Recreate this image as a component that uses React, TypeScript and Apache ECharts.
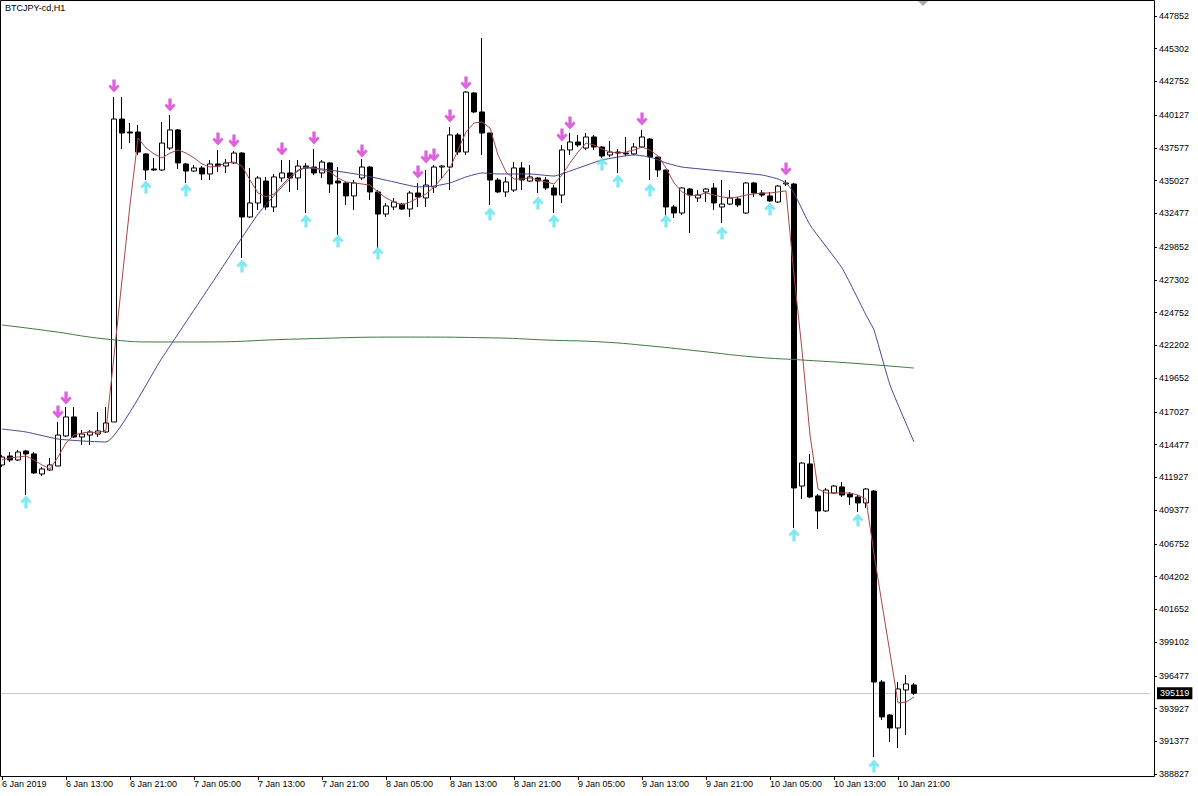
import React, { useEffect, useRef } from "react";
import * as echarts from "echarts";

const title = "BTCJPY-cd,H1";
const xTickLabels = [
  "6 Jan 2019", "6 Jan 13:00", "6 Jan 21:00", "7 Jan 05:00", "7 Jan 13:00", "7 Jan 21:00",
  "8 Jan 05:00", "8 Jan 13:00", "8 Jan 21:00", "9 Jan 05:00", "9 Jan 13:00", "9 Jan 21:00",
  "10 Jan 05:00", "10 Jan 13:00", "10 Jan 21:00",
];
const yTickValues = [
  447852, 445302, 442752, 440127, 437577, 435027, 432477, 429852, 427302, 424752, 422202, 419652,
  417027, 414477, 411927, 409377, 406752, 404202, 401652, 399102, 396477, 393927, 391377, 388827,
];
const lastPrice = 395119;

const opens = [
  412890, 413590, 413280, 413980, 413750, 412190, 412500, 412810, 415150, 416630,
  415070, 415220, 415300, 415460, 416240, 439830, 438820, 438820, 437110, 435940,
  435860, 437570, 438980, 436330, 435780, 436020, 435550, 436330, 436170, 436410,
  437180, 432200, 433290, 435000, 432980, 435240, 435630, 435240, 436170, 436090,
  435630, 436410, 435000, 434850, 433840, 435240, 436090, 434150, 432430, 432980,
  433210, 432820, 434070, 433680, 434540, 436090, 436090, 438590, 437260, 441860,
  440380, 438740, 435080, 434150, 434300, 436020, 435000, 435240, 435080, 434460,
  433910, 437420, 438040, 437570, 438430, 437650, 437030, 437260, 437180, 437110,
  437650, 438270, 436870, 435860, 432980, 432510, 434380, 433680, 434150, 434460,
  432980, 433210, 433600, 432510, 434850, 434070, 433840, 433370, 434770, 434770,
  411250, 412970, 410480, 409310, 410710, 411180, 410630, 410400, 409930, 410860,
  395990, 393420, 392410, 395370, 395760,
];
const closes = [
  413510, 413280, 413900, 413750, 412270, 412580, 412890, 415220, 416630, 415070,
  415300, 415460, 415540, 416160, 439830, 438740, 438740, 437260, 435860, 435860,
  437960, 438980, 436410, 435780, 436020, 435550, 436330, 436170, 436410, 437180,
  432200, 433290, 435240, 432980, 435320, 435630, 435240, 436170, 436020, 435630,
  436480, 434770, 434850, 433840, 434850, 436090, 434150, 432430, 433060, 433370,
  432820, 434070, 433760, 434690, 436090, 436170, 438590, 437260, 441930, 440380,
  438740, 435080, 434150, 434930, 436020, 435080, 435320, 435000, 434460, 433910,
  437420, 438040, 437810, 438430, 437650, 436950, 437260, 437180, 437110, 437650,
  438430, 436870, 435860, 432980, 432510, 434460, 433910, 433910, 434380, 433290,
  433210, 433680, 433140, 434850, 434070, 433910, 433450, 434610, 434850, 411100,
  413040, 410400, 409310, 410940, 411250, 410550, 410400, 409930, 411020, 395990,
  393270, 392410, 395450, 395840, 395119,
];
const lows = [
  412730, 413120, 413200, 410550, 412190, 412030, 412420, 412810, 415070, 414990,
  414450, 414450, 415070, 415380, 416240, 437500, 437960, 437030, 435080, 435780,
  435780, 437420, 435940, 434850, 435700, 435080, 435080, 435700, 435630, 436330,
  429010, 432120, 432750, 432750, 432590, 434930, 434150, 434300, 432510, 435470,
  435240, 434070, 430800, 433140, 432750, 435080, 433520, 429790, 432200, 432750,
  432750, 432200, 432980, 432980, 434070, 435240, 434300, 437030, 437030, 440300,
  437030, 433140, 434070, 433760, 434150, 434300, 434930, 434070, 434300, 432510,
  433290, 437030, 437650, 437420, 437420, 436800, 436870, 435630, 436950, 437030,
  437570, 435080, 435320, 432360, 432120, 432360, 430950, 433370, 433370, 432750,
  431730, 433140, 432980, 432430, 433760, 433760, 433370, 433290, 434610, 407980,
  410240, 410320, 407900, 409230, 410630, 410400, 409770, 409230, 409540, 390150,
  393030, 391320, 390850, 391860, 394980,
];
const highs = [
  413670, 413900, 414060, 414060, 413900, 412730, 413430, 416240, 417400, 417400,
  415610, 415610, 417020, 417400, 441550, 441550, 439520, 439360, 437180, 436800,
  439600, 440140, 439050, 436410, 436250, 436170, 436640, 437420, 436720, 437340,
  437260, 436020, 435390, 435320, 435550, 436640, 436640, 436640, 436410, 437500,
  436640, 436480, 436090, 434930, 435080, 436720, 436170, 434300, 433290, 433680,
  433290, 434230, 434850, 435860, 436250, 436250, 439210, 438740, 442010, 441930,
  446140, 438740, 435240, 435320, 436480, 436480, 436250, 435320, 435320, 434690,
  437810, 438740, 438590, 438740, 438590, 437730, 438120, 437500, 438430, 437960,
  438980, 438350, 436870, 435860, 433140, 434540, 434460, 434300, 434460, 434850,
  435080, 434300, 433760, 434930, 434930, 434300, 434150, 434690, 435080, 434850,
  413120, 413750, 410630, 411100, 411330, 411560, 410790, 410550, 411100, 410940,
  396150, 393500, 395990, 396540, 395910,
];

// fast moving average (red), one value per candle
const fastMA = [
  413280, 413430, 413510, 413590, 413280, 412890, 412580, 413510, 414600, 415220,
  415380, 415460, 415380, 415610, 421380, 427290, 433140, 438350, 437570, 437110,
  436800, 437180, 437420, 437180, 436800, 436330, 436090, 436170, 436410, 436480,
  436170, 435080, 434070, 433760, 433990, 434690, 435320, 435860, 436090, 436020,
  435860, 435700, 435240, 434930, 434850, 434770, 434690, 434150, 433680, 433370,
  433140, 433370, 433680, 433990, 434540, 435240, 436020, 437420, 438820, 439520,
  439600, 439130, 437030, 435700, 435160, 435160, 435240, 435080, 434930, 434770,
  435470, 436410, 437260, 437960, 437810, 437500, 437260, 437180, 437260, 437420,
  437650, 437420, 436950, 436020, 434850, 434150, 433840, 433910, 434070, 433910,
  433760, 433680, 433760, 433910, 433990, 434070, 434070, 434150, 434230, 427680,
  421840, 415220, 411020, 410710, 410710, 410710, 410710, 410550, 410240, 405960,
  402070, 398250, 394360, 394430, 394820,
];
// slow moving average (blue), [candle index, value]
const slowMA = [
  [0, 415690], [3, 415460], [7, 414910], [10, 414760], [13, 414680], [20, 421220],
  [26, 426830], [32, 432430], [35, 434540], [37, 435780], [38, 436020], [40, 435940],
  [45, 435470], [49, 434930], [52, 434540], [54, 434610], [56, 434850], [58, 435320],
  [60, 435630], [62, 435550], [66, 435550], [69, 435390], [71, 435780], [75, 436640],
  [79, 437030], [81, 436870], [83, 436410], [85, 436090], [90, 435780], [95, 435470],
  [97, 435160], [98, 434850], [99, 434070], [101, 431580], [105, 428230], [108, 424570],
  [109, 423400], [111, 419120], [114, 414680],
];
// long moving average (green), [candle index, value]
const longMA = [
  [0, 423790], [6, 423320], [13, 422700], [19, 422470], [25, 422470], [37, 422700],
  [50, 422850], [62, 422780], [68, 422620], [75, 422470], [81, 422160], [87, 421770],
  [94, 421300], [100, 421065], [106, 420830], [114, 420440],
];
// fractal arrows, [candle index, value]
const upperFractals = [
  [7, 417020], [8, 418110], [14, 442400], [21, 440920], [27, 438270], [29, 438120],
  [35, 437500], [39, 438350], [45, 437340], [52, 435700], [53, 436870], [54, 437030],
  [56, 440060], [58, 442630], [70, 438590], [71, 439520], [80, 439830], [98, 435940],
];
const lowerFractals = [
  [3, 410010], [18, 434540], [23, 434300], [30, 428390], [38, 431890], [42, 430330],
  [47, 429400], [61, 432430], [67, 433290], [69, 431890], [75, 436330], [77, 435000],
  [81, 434300], [83, 431890], [90, 430950], [96, 432820], [99, 407440], [107, 408610],
  [109, 389450],
];

const SLOTS = 144;
const categories = Array.from({ length: SLOTS }, (_, i) => String(i));
const showTick = (i: number) => i % 8 === 0 && i / 8 < xTickLabels.length;

const downArrow = "path://M3.5,0 L6.5,0 L6.5,6.5 L8.5,4.5 L10,6.5 L5,12 L0,6.5 L1.5,4.5 L3.5,6.5 Z";
const upArrow = "path://M3.5,12 L6.5,12 L6.5,5.5 L8.5,7.5 L10,5.5 L5,0 L0,5.5 L1.5,7.5 L3.5,5.5 Z";

const FONT = "'Liberation Sans', Arial, sans-serif";

export default function App() {
  const ref = useRef<HTMLDivElement>(null);
  useEffect(() => {
    if (!ref.current) return;
    const chart = echarts.init(ref.current, undefined, { renderer: "svg" });
    const candles = opens.map((o, i) => [o, closes[i], lows[i], highs[i]]);
    chart.setOption({
      animation: false,
      backgroundColor: "#ffffff",
      grid: { left: -2, top: 1, width: 1152, height: 775, containLabel: false, outerBoundsMode: "none" },
      xAxis: {
        type: "category",
        data: categories,
        boundaryGap: true,
        axisLine: { show: false },
        axisTick: { show: true, interval: (i: number) => showTick(i), alignWithLabel: true, length: 4, lineStyle: { color: "#000" } },
        axisLabel: {
          interval: (i: number) => showTick(i),
          formatter: (_v: string, i: number) => (showTick(i) ? xTickLabels[i / 8] : ""),
          align: "left",
          margin: 3,
          color: "#000",
          fontSize: 9,
          fontFamily: FONT,
        },
        splitLine: { show: false },
      },
      yAxis: {
        type: "value",
        position: "right",
        offset: 4,
        min: 388671,
        max: 449020,
        scale: true,
        axisLine: { show: false },
        axisTick: { show: true, customValues: yTickValues, length: 3, lineStyle: { color: "#000" } },
        axisLabel: {
          customValues: yTickValues,
          formatter: (v: number) => String(Math.round(v)),
          margin: 5,
          color: "#000",
          fontSize: 9,
          fontFamily: FONT,
        },
        splitLine: { show: false },
      },
      series: [
        {
          type: "candlestick",
          data: candles,
          barWidth: 5,
          itemStyle: { color: "#ffffff", color0: "#000000", borderColor: "#000000", borderColor0: "#000000", borderWidth: 1 },
          silent: true,
          z: 3,
          markLine: {
            silent: true,
            symbol: "none",
            animation: false,
            lineStyle: { color: "#c8c8c8", width: 1, type: "solid" },
            label: {
              show: true,
              position: "end",
              distance: 7,
              formatter: String(lastPrice),
              color: "#fff",
              backgroundColor: "#000",
              padding: [2, 3, 1, 3],
              fontSize: 9,
              fontFamily: FONT,
            },
            data: [{ yAxis: lastPrice }],
            z: 1,
          },
        },
        {
          type: "line",
          data: longMA,
          smooth: true,
          showSymbol: false,
          lineStyle: { color: "#3a7a3a", width: 1 },
          silent: true,
          z: 4,
        },
        {
          type: "line",
          data: slowMA,
          smooth: 0.15,
          showSymbol: false,
          lineStyle: { color: "#46468e", width: 1 },
          silent: true,
          z: 4,
        },
        {
          type: "line",
          data: fastMA,
          smooth: false,
          showSymbol: false,
          lineStyle: { color: "#a84848", width: 1 },
          silent: true,
          z: 5,
        },
        {
          type: "scatter",
          data: upperFractals,
          symbol: downArrow,
          symbolSize: [11, 13],
          itemStyle: { color: "#d63ad6" },
          silent: true,
          z: 6,
        },
        {
          type: "scatter",
          data: lowerFractals,
          symbol: upArrow,
          symbolSize: [11, 13],
          itemStyle: { color: "#62e4ee" },
          silent: true,
          z: 6,
        },
      ],
      graphic: [
        {
          type: "rect",
          shape: { x: 0.5, y: 0.5, width: 1154, height: 776 },
          style: { fill: "none", stroke: "#000", lineWidth: 1 },
          silent: true,
          z: 10,
        },
        {
          type: "polygon",
          shape: { points: [[918, 1], [928, 1], [923, 6]] },
          style: { fill: "#a8a8a8" },
          silent: true,
          z: 10,
        },
        {
          type: "text",
          x: 5,
          y: 3,
          style: { text: title, fill: "#000", fontSize: 9, fontFamily: FONT },
          silent: true,
          z: 10,
        },
      ],
    });
    return () => chart.dispose();
  }, []);
  return (
    <div
      ref={ref}
      style={{ position: "fixed", left: 0, top: 0, width: 1198, height: 796, background: "#fff" }}
    />
  );
}
